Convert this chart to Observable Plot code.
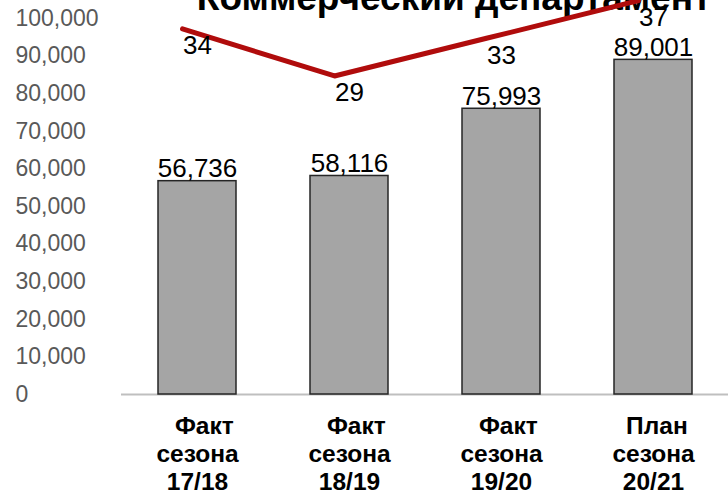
<!DOCTYPE html>
<html>
<head>
<meta charset="utf-8">
<script src="https://cdn.jsdelivr.net/npm/d3@7"></script>
<script src="https://cdn.jsdelivr.net/npm/@observablehq/plot@0.6"></script>
<style>
  body { margin: 0; background: #fff; }
  #wrap { position: relative; width: 728px; height: 495px; overflow: hidden; background: #fff; }
  #title { position: absolute; left: 90px; top: -20px; width: 728px; text-align: center;
           font: bold 37px "Liberation Sans", Arial, sans-serif; line-height: 36px; color: #000; white-space: nowrap; }
  #chart { position: absolute; left: 0; top: 0; }
  #chart svg { background: transparent; }
</style>
</head>
<body>
<div id="wrap">
  <div id="title">Коммерческий департамент</div>
  <div id="chart"></div>
</div>
<script>
const kinds = ["\u00a0\u00a0Факт", "\u00a0\u00a0Факт", "\u00a0\u00a0Факт", "\u00a0План"];
const seasonWord = ["сезона", "сезона", "сезона", "сезона"];
const seasons = ["17/18", "18/19", "19/20", "20/21"];
const revenue = [56736, 58116, 75993, 89001];
const share = [34, 29, 33, 37];
const yTicks = [0, 10000, 20000, 30000, 40000, 50000, 60000, 70000, 80000, 90000, 100000];
// secondary (hidden) axis for the line series
const secMin = -4.8, secMax = 35.1;

const data = seasons.map((s, i) => ({
  cat: s, label: kinds[i] + "\n" + seasonWord[i] + "\n" + s,
  revenue: revenue[i], share: share[i]
}));
const toPrimary = v => (v - secMin) / (secMax - secMin) * 100000;
const fmt = d3.format(",");
const font = '"Liberation Sans", Arial, sans-serif';

const chart = Plot.plot({
  width: 728,
  height: 495,
  marginLeft: 121,
  marginRight: 0,
  marginTop: 18,
  marginBottom: 101,
  style: { fontFamily: font, background: "transparent", overflow: "visible" },
  x: { type: "band", domain: seasons, range: [121, 729], paddingInner: 0.49, paddingOuter: 0.245, axis: null },
  y: { domain: [0, 100000], axis: null },
  marks: [
    Plot.text(yTicks, { y: d => d, text: d => fmt(d), frameAnchor: "left", textAnchor: "start", dx: -106, fill: "#595959", fontSize: 23 }),
    Plot.ruleY([0], { stroke: "#bfbfbf", strokeWidth: 2 }),
    Plot.barY(data, { x: "cat", y: "revenue", fill: "#a5a5a5", stroke: "#262626", strokeWidth: 1.5 }),
    Plot.text(data, { x: "cat", y: "revenue", text: d => fmt(d.revenue), lineAnchor: "bottom", dy: -4, fontSize: 26, fill: "#000" }),
    Plot.line(data, { x: "cat", y: d => toPrimary(d.share), stroke: "#b00c0c", strokeWidth: 5, dx: -15 }),
    Plot.text(data, { x: "cat", y: d => toPrimary(d.share), text: d => String(d.share), lineAnchor: "top", dy: 7, fontSize: 26, fill: "#000" }),
    Plot.text(data, { x: "cat", text: "label", frameAnchor: "bottom", lineAnchor: "top", dy: 20, lineHeight: 1.14, fontSize: 24.5, fontWeight: "bold", fill: "#000" })
  ]
});
document.getElementById("chart").appendChild(chart);
</script>
</body>
</html>
